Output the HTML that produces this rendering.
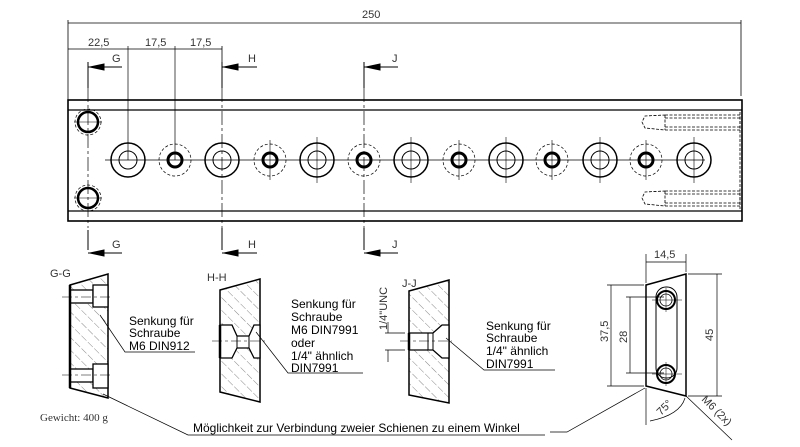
<!DOCTYPE html>
<html><head><meta charset="utf-8"><style>
html,body{margin:0;padding:0;background:#fff;}
svg{display:block;}
text{font-family:"Liberation Sans",sans-serif;}
</style></head><body>
<svg width="800" height="447" viewBox="0 0 800 447" xmlns="http://www.w3.org/2000/svg">
<defs>
<pattern id="h" width="9" height="9" patternUnits="userSpaceOnUse" patternTransform="rotate(-45)">
<line x1="0" y1="0" x2="0" y2="9" stroke="#555" stroke-width="0.7" stroke-dasharray="5,2"/>
</pattern>
<marker id="a" markerWidth="8" markerHeight="6" refX="8" refY="3" orient="auto"><path d="M0,0 L8,3 L0,6z" fill="#000"/></marker>
</defs>
<g stroke="#000" fill="none" stroke-width="1">
<!-- top dims -->
<line x1="68" y1="20" x2="68" y2="100" stroke-width="0.8"/>
<line x1="741" y1="20" x2="741" y2="96" stroke-width="0.8"/>
<line x1="68" y1="23" x2="741" y2="23" stroke-width="0.8"/>
<line x1="68" y1="49" x2="222" y2="49" stroke-width="0.8"/>
<line x1="128" y1="46" x2="128" y2="160" stroke-width="0.7"/>
<line x1="175" y1="46" x2="175" y2="160" stroke-width="0.7"/>
<line x1="222" y1="46" x2="222" y2="88" stroke-width="0.8"/>
<!-- section markers -->
<path d="M88,62V88 M88,67H122 M222,62V88 M222,67H257 M364,62V88 M364,67H398" stroke-width="1"/>
<path d="M88,230V250 M88,253H122 M222,228V250 M222,253H257 M364,228V250 M364,253H398" stroke-width="1"/>
<path d="M90,67l14,-3v6z M224,67l14,-3v6z M366,67l14,-3v6z M90,253l14,-3v6z M224,253l14,-3v6z M366,253l14,-3v6z" fill="#000"/>
<line x1="88" y1="88" x2="88" y2="228" stroke-dasharray="14,3,3,3" stroke-width="0.7"/>
<line x1="222" y1="88" x2="222" y2="228" stroke-dasharray="14,3,3,3" stroke-width="0.7"/>
<line x1="364" y1="88" x2="364" y2="228" stroke-dasharray="14,3,3,3" stroke-width="0.7"/>
<!-- main rail -->
<rect x="68" y="100" width="674" height="121" stroke-width="1.6"/>
<line x1="68" y1="110" x2="742" y2="110" stroke-width="1.2"/>
<line x1="68" y1="211" x2="742" y2="211" stroke-width="1.2"/>
<line x1="105" y1="160" x2="705" y2="160" stroke-width="0.7"/>
<!-- side holes -->
<circle cx="88" cy="122" r="13" stroke-dasharray="3,2" stroke-width="0.7"/>
<circle cx="88" cy="122" r="10" stroke-width="2.5"/>
<circle cx="88" cy="198" r="13" stroke-dasharray="3,2" stroke-width="0.7"/>
<circle cx="88" cy="198" r="10" stroke-width="2.5"/>
<line x1="74" y1="122" x2="102" y2="122" stroke-width="0.6"/>
<line x1="74" y1="198" x2="102" y2="198" stroke-width="0.6"/>
<!-- holes -->
<g stroke-width="1.5">
<circle cx="128" cy="160" r="17"/><circle cx="128" cy="160" r="9" stroke-width="1"/>
<circle cx="222" cy="160" r="17"/><circle cx="222" cy="160" r="9" stroke-width="1"/>
<circle cx="317" cy="160" r="17"/><circle cx="317" cy="160" r="9" stroke-width="1"/>
<circle cx="411" cy="160" r="17"/><circle cx="411" cy="160" r="9" stroke-width="1"/>
<circle cx="506" cy="160" r="17"/><circle cx="506" cy="160" r="9" stroke-width="1"/>
<circle cx="600" cy="160" r="17"/><circle cx="600" cy="160" r="9" stroke-width="1"/>
<circle cx="694" cy="160" r="17"/><circle cx="694" cy="160" r="9" stroke-width="1"/>
</g>
<g>
<circle cx="175" cy="160" r="16" stroke-dasharray="3,2" stroke-width="0.7"/><circle cx="175" cy="160" r="7" stroke-width="3"/>
<circle cx="270" cy="160" r="16" stroke-dasharray="3,2" stroke-width="0.7"/><circle cx="270" cy="160" r="7" stroke-width="3"/>
<circle cx="364" cy="160" r="16" stroke-dasharray="3,2" stroke-width="0.7"/><circle cx="364" cy="160" r="7" stroke-width="3"/>
<circle cx="459" cy="160" r="16" stroke-dasharray="3,2" stroke-width="0.7"/><circle cx="459" cy="160" r="7" stroke-width="3"/>
<circle cx="552" cy="160" r="16" stroke-dasharray="3,2" stroke-width="0.7"/><circle cx="552" cy="160" r="7" stroke-width="3"/>
<circle cx="646" cy="160" r="16" stroke-dasharray="3,2" stroke-width="0.7"/><circle cx="646" cy="160" r="7" stroke-width="3"/>
</g>
<path d="M317,137V183 M411,137V183 M506,137V183 M600,137V183 M694,137V183 M270,140V180 M459,140V180 M552,140V180 M646,140V180" stroke-width="0.6"/>
<!-- threaded holes right -->
<g stroke-dasharray="3,1.5" stroke-width="0.8">
<path d="M665,115H740V130H665L645,128L642,122L645,116Z M665,115V130 M665,118H740 M665,127H740"/>
<path d="M665,191H740V206H665L645,204L642,198L645,192Z M665,191V206 M665,194H740 M665,203H740"/>
<line x1="740" y1="112" x2="740" y2="209"/>
</g>
<!-- G-G -->
<polygon points="70,285 108,274 108,398 70,388" fill="url(#h)" stroke-width="1.5"/>
<rect x="70" y="290" width="23" height="13" fill="#fff" stroke-width="1.3"/>
<rect x="93" y="285" width="15" height="22" fill="#fff" stroke-width="1.3"/>
<rect x="70" y="369" width="23" height="13" fill="#fff" stroke-width="1.3"/>
<rect x="93" y="364" width="15" height="24" fill="#fff" stroke-width="1.3"/>
<line x1="70" y1="285" x2="70" y2="388" stroke-width="2.5"/>
<path d="M62,297H112 M62,375H112" stroke-dasharray="10,3,3,3" stroke-width="0.6"/>
<path d="M100,315L125,352H195" stroke-width="0.7"/>
<!-- H-H -->
<polygon points="220,290 260,279 260,402 220,392" fill="url(#h)" stroke-width="1.5"/>
<path d="M220,325L232,325L237,336H249L254,325L260,325V358L254,358L249,348H237L232,358L220,358Z" fill="#fff" stroke-width="1.3"/>
<path d="M237,336V348 M249,336V348" stroke-width="1"/>
<line x1="220" y1="325" x2="220" y2="358" stroke-width="2.5"/>
<line x1="212" y1="341" x2="265" y2="341" stroke-dasharray="10,3,3,3" stroke-width="0.6"/>
<path d="M256,332L288,373H363" stroke-width="0.7"/>
<!-- J-J -->
<polygon points="409,291 449,280 449,403 409,395" fill="url(#h)" stroke-width="1.5"/>
<path d="M409,333H433L442,325H449V358H442L433,350H409Z" fill="#fff" stroke-width="1.3"/>
<path d="M428,333V350 M433,333V350" stroke-width="1"/>
<line x1="409" y1="333" x2="409" y2="350" stroke-width="2.5"/>
<line x1="400" y1="341" x2="452" y2="341" stroke-dasharray="10,3,3,3" stroke-width="0.6"/>
<path d="M385,333H405 M385,350H405 M388,322V333 M388,350V362" stroke-width="0.7"/>
<path d="M446,338L484,370H555" stroke-width="0.7"/>
<!-- bottom leader -->
<path d="M103,394L188,435H545" stroke-width="0.7"/>
<path d="M550,432H567L645,388" stroke-width="0.7"/>
<!-- right view -->
<polygon points="646,285 686,274 686,396 646,386" stroke-width="1.5"/>
<rect x="656" y="287" width="21" height="91" rx="10" stroke-width="1"/>
<circle cx="666" cy="300" r="9" stroke-width="2"/><circle cx="666" cy="300" r="6" stroke-width="0.8"/>
<circle cx="666" cy="374" r="9" stroke-width="2"/><circle cx="666" cy="374" r="6" stroke-width="0.8"/>
<path d="M652,300H682 M652,374H682 M666,288V312 M666,362V386" stroke-width="0.5"/>
<path d="M646,283V254 M686,272V254 M646,262H686" stroke-width="0.7"/>
<path d="M644,285H607 M644,386H607 M611,285V386" stroke-width="0.7"/>
<path d="M664,297H626 M664,373H626 M630,297V373" stroke-width="0.7"/>
<path d="M688,274H722 M688,396H722 M717,274V396" stroke-width="0.7"/>
<path d="M646,388V425 M650,421Q680,415 685,398" stroke-width="0.7"/>
<path d="M686,396L732,440" stroke-width="0.7"/>
</g>
<g font-size="11" fill="#333">
<text x="362" y="18">250</text>
<text x="88" y="46">22,5</text>
<text x="145" y="46">17,5</text>
<text x="190" y="46">17,5</text>
<text x="112" y="62">G</text><text x="248" y="62">H</text><text x="392" y="62">J</text>
<text x="112" y="248">G</text><text x="248" y="248">H</text><text x="392" y="248">J</text>
<text x="50" y="277">G-G</text>
<text x="207" y="281">H-H</text>
<text x="402" y="287">J-J</text>
<text x="654" y="258">14,5</text>
<text transform="translate(608,342) rotate(-90)">37,5</text>
<text transform="translate(627,343) rotate(-90)">28</text>
<text transform="translate(713,341) rotate(-90)">45</text>
<text transform="translate(661,416) rotate(-45)">75°</text>
<text transform="translate(701,400) rotate(45)">M6 (2x)</text>
<text transform="translate(387,330) rotate(-90)">1/4"UNC</text>
</g>
<g font-size="12" fill="#000">
<text x="129" y="325">Senkung für</text>
<text x="129" y="337">Schraube</text>
<text x="129" y="350">M6 DIN912</text>
<text x="291" y="308">Senkung für</text>
<text x="291" y="321">Schraube</text>
<text x="291" y="334">M6 DIN7991</text>
<text x="291" y="347">oder</text>
<text x="291" y="360">1/4" ähnlich</text>
<text x="291" y="372">DIN7991</text>
<text x="486" y="330">Senkung für</text>
<text x="486" y="342">Schraube</text>
<text x="486" y="355">1/4" ähnlich</text>
<text x="486" y="368">DIN7991</text>
<text x="193" y="432">Möglichkeit zur Verbindung zweier Schienen zu einem Winkel</text>
</g>
<text x="40" y="421" font-size="11" fill="#333" style="font-family:'Liberation Serif',serif">Gewicht: 400 g</text>
</svg>
</body></html>
